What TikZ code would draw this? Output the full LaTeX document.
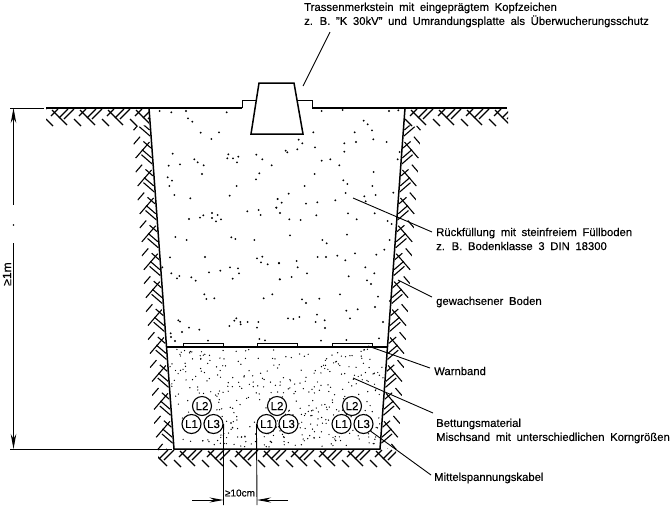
\documentclass[tikz,border=0pt]{standalone}
\usepackage{fontspec}
\setmainfont[WordSpace=1.8,FakeBold=0.3]{Liberation Sans}
\usetikzlibrary{arrows.meta}

\tikzset{
    edge/.style={line width=1.5pt},
    thinline/.style={line width=0.9pt},
    leader/.style={line width=0.9pt},
    soil/.style={line width=1.1pt},
    grain/.style={fill=black},
    caption/.style={anchor=west,align=left,inner sep=0pt,font=\fontsize{11.3}{14}\selectfont},
    cable/.style={circle,draw,fill=white,line width=1.1pt,minimum size=19pt,inner sep=0pt,font=\fontsize{11.5}{12}\selectfont}
}

% one strip of soil hatching, #1 = from, #2 = to
\newcommand{\soilstrip}[2]{
    \begin{scope}
        \clip (#1,0) rectangle (#2,18);
        \foreach \s in {-28,0,...,364} {
            \draw[soil] (\s+0,11) -- (\s+7,18);
            \draw[soil] (\s+6,2) -- (\s+21,17);
            \draw[soil] (\s+12,1) -- (\s+5,8);
            \draw[soil] (\s+22,1) -- (\s+13,10);
            \draw[soil] (\s+28,1) -- (\s+18,11);
        }
    \end{scope}
}

% dots read from a crop, #1/#2 = corner of the crop
\newcommand{\backfill}[3]{
    \foreach \a/\b in {#3}
        \fill[grain] ({#1+\a/3},{#2+\b/3}) circle (1.05);
}

\begin{document}
\begin{tikzpicture}[x=1pt,y=-1pt]
    \useasboundingbox (0,0) rectangle (671,507);

    % Soil
    \begin{scope}[shift={(46,108)}]
        \soilstrip{0}{103}
    \end{scope}
    \begin{scope}[shift={(405,108)}]
        \soilstrip{0}{103}
    \end{scope}
    \begin{scope}[shift={(149,108)},rotate=-85.8]
        \soilstrip{17}{341}
    \end{scope}
    \begin{scope}[shift={(405,108)},rotate=-94.2,yscale=-1]
        \soilstrip{17}{341}
    \end{scope}
    \begin{scope}[shift={(174,449)}]
        \soilstrip{-16}{222}
    \end{scope}

    % Backfill
    \backfill{150}{105}{29/18,64/22,108/18,230/22,114/40,127/50,152/83,207/82,184/102,68/146,56/182,90/178,133/163,143/172,161/181,156/207,53/217,66/227,58/243,73/270,121/280,235/148,232/160,249/160,265/155,261/172,319/149,337/163,365/181,328/205,318/223,260/243,239/272,383/282,379/308,292/319,326/315,332/330,186/324,203/330,186/339,213/343,198/349,160/331,150/338,117/342}
    \backfill{275}{105}{140/18,203/15,342/18,370/16,266/47,278/58,291/76,239/82,115/82,71/104,82/115,67/133,120/127,32/137,37/142,208/115,243/111,295/103,335/111,208/140,374/141,368/163,166/163,140/167,193/181,296/201,119/207,205/226,217/237,89/243,292/243,355/263,41/266,212/264,302/270,268/274,272/289,181/286,8/282,20/293,93/296,127/292,4/308,15/324,124/331,219/325,299/325,43/343,77/345,245/343,338/348,350/357}
    \backfill{150}{225}{76/36,110/45,244/37,256/42,313/45,60/97,165/96,321/100,337/95,333/112,353/118,387/115,37/127,240/127,264/130,267/145,211/137,177/142,64/145,88/153,81/160,124/157,137/167,248/161,389/163,163/208,169/222,193/220,341/220,367/208,85/286,90/290,259/280,253/287,271/291,272/298,293/291,325/291,238/303,321/308,117/308,148/314,96/321,62/325,63/336,75/348,174/347,328/342,345/346}
    \backfill{275}{225}{45/31,142/45,155/55,216/29,344/45,328/74,304/89,240/85,187/92,128/96,153/96,211/106,65/108,12/114,68/127,271/127,298/145,96/145,50/156,15/163,221/154,276/166,288/177,195/208,309/215,133/221,81/223,93/234,345/228,300/246,248/253,214/257,126/269,225/280,73/276,39/280,55/282,122/291,149/286,324/291,150/309,312/340,138/347,214/345}

    % Bedding sand
    \pgfmathsetseed{4711}
    \foreach \i in {1,2,...,420} {
        \pgfmathsetmacro{\yy}{349+rnd*98}
        \pgfmathsetmacro{\xx}{151+0.0733*(\yy-108)+rnd*(252-0.1466*(\yy-108))}
        \fill[grain] (\xx,\yy) circle (0.7);
    }

    % Trench
    \draw[edge] (46,108) -- (242,108);
    \draw[edge] (312,108) -- (507,108);
    \draw[edge] (149,108) -- (174,449) -- (380,449) -- (405,108);
    \draw[edge] (167,347) -- (388,347);

    % Warning tape
    \foreach \i in {183,257,332}
        \draw[thinline] (\i,347) -- (\i,343) -- (\i+40,343) -- (\i+40,347);

    % Marker stone
    \draw[thinline] (242,108) -- (242,100) -- (257,100);
    \draw[thinline] (297,100) -- (312,100) -- (312,108);
    \draw[edge] (259,83) -- (294,83) -- (303,134) -- (251,134) -- cycle;

    % Cables
    \foreach \n/\x in {a/202,b/277,c/352} {
        \node[cable] (ltwo\n) at (\x,406) {L2};
        \node[cable] (lone\n) at (\x-10.5,424) {L1};
        \node[cable] (lthree\n) at (\x+11.5,424) {L3};
    }

    % Depth
    \coordinate (surface) at (13.5,108);
    \coordinate (sole) at (13.5,449);
    \draw[thinline] (10,108) -- (44,108);
    \draw[thinline] (10,449) -- (172,449);
    \draw[thinline,{Stealth[length=15pt,width=5.5pt]}-] (surface) -- (13.5,205);
    \draw[thinline,-{Stealth[length=15pt,width=5.5pt]}] (13.5,243) -- (sole);
    \fill[grain] (13.5,225) circle (0.9);
    \node[rotate=90,inner sep=0pt,font=\fontsize{12}{12}\selectfont] (depthlabel) at (7,274) {≥1m};

    % Spacing
    \coordinate (gapleft) at (223.5,500);
    \coordinate (gapright) at (257,500);
    \draw[thinline] (lthreea.east) -- (223.5,505);
    \draw[thinline] (loneb.west) -- (257,505);
    \draw[thinline,-{Stealth[length=14pt,width=5pt]}] (192,500) -- (gapleft);
    \draw[thinline,-{Stealth[length=14pt,width=5pt]}] (288,500) -- (gapright);
    \node[inner sep=0pt,font=\fontsize{10}{12}\selectfont] (gaplabel) at (240,493) {≥10cm};

    % Labels
    \node[caption] (stonelabel) at (304,15) {Trassenmerkstein mit eingeprägtem Kopfzeichen\\z. B. "K 30kV" und Umrandungsplatte als Überwucherungsschutz};
    \node[caption] (filllabel) at (436,239) {Rückfüllung mit steinfreiem Füllboden\\z. B. Bodenklasse 3 DIN 18300};
    \node[caption] (groundlabel) at (436,302) {gewachsener Boden};
    \node[caption] (tapelabel) at (434,371) {Warnband};
    \node[caption] (sandlabel) at (436,431) {Bettungsmaterial\\Mischsand mit unterschiedlichen Korngrößen};
    \node[caption] (cablelabel) at (434,478) {Mittelspannungskabel};

    \coordinate (stonetip) at (303,86);
    \coordinate (filltip) at (353,198);
    \coordinate (groundtip) at (398,280);
    \coordinate (tapetip) at (368,346);
    \coordinate (sandtip) at (353,378);
    \coordinate (cabletip) at (lthreec.south east);

    \draw[leader] (stonetip) -- (330,32);
    \draw[leader] (filltip) -- (432,232);
    \draw[leader] (groundtip) -- (432,297);
    \draw[leader] (tapetip) -- (430,368);
    \draw[leader] (sandtip) -- (433,413);
    \draw[leader] (cabletip) -- (431,475);
\end{tikzpicture}
\end{document}
